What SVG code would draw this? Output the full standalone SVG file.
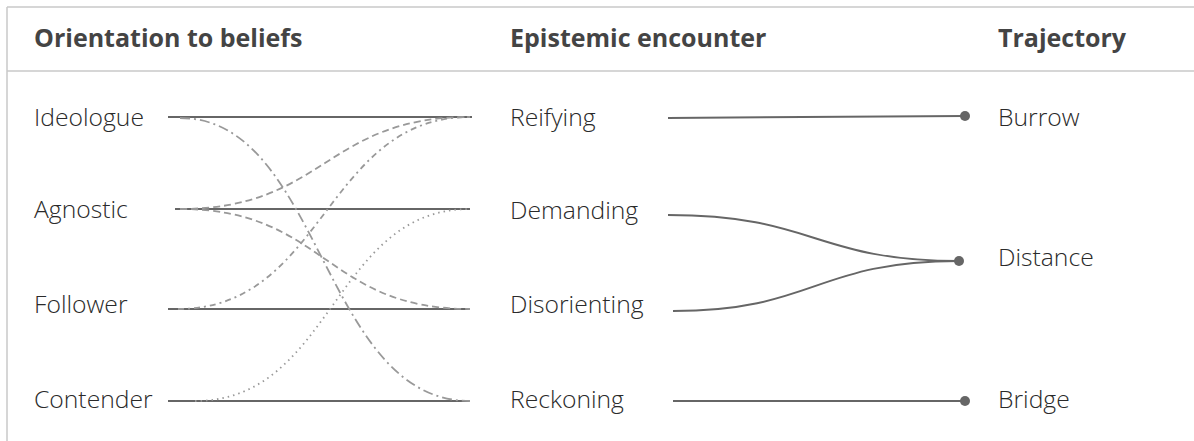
<svg xmlns="http://www.w3.org/2000/svg" width="1194" height="441" viewBox="0 0 1194 441">
  <style>
    .hdr { font-family: "Open Sans", "Liberation Sans", sans-serif; font-weight: 700; font-size: 25px; fill: #444; }
    .lbl { font-family: "Open Sans", "Liberation Sans", sans-serif; font-weight: 300; font-size: 24.7px; fill: #2a2a2a; }
    .frame { stroke: #c8c8c8; stroke-width: 1.5; fill: none; }
    .solid { stroke: #666; stroke-width: 2; fill: none; }
    .dash { stroke: #999; stroke-width: 1.8; fill: none; stroke-dasharray: 7 4; }
    .dashdot { stroke: #999; stroke-width: 1.8; fill: none; stroke-dasharray: 10 4 2 4; }
    .dashdotshort { stroke: #999; stroke-width: 1.8; fill: none; stroke-dasharray: 6 4 2 4; }
    .dot { stroke: #999; stroke-width: 1.8; fill: none; stroke-dasharray: 1.5 4; }
    .end { fill: #666; }
  </style>
  <rect width="1194" height="441" fill="#ffffff"/>
  <g id="frame">
    <line class="frame" x1="7" y1="7" x2="1194" y2="7"/>
    <line class="frame" x1="7" y1="7" x2="7" y2="441"/>
    <line class="frame" x1="7" y1="71" x2="1194" y2="71"/>
  </g>
  <g id="headers">
    <text class="hdr" x="34" y="47">Orientation to beliefs</text>
    <text class="hdr" x="510" y="47">Epistemic encounter</text>
    <text class="hdr" x="998" y="47">Trajectory</text>
  </g>
  <g id="connectors">
    <line class="solid" x1="168" y1="117" x2="472" y2="117"/>
    <line class="solid" x1="175" y1="209" x2="470" y2="209"/>
    <line class="solid" x1="168" y1="309" x2="470" y2="309"/>
    <line class="solid" x1="168" y1="401" x2="470" y2="401"/>
    <path class="dashdot" d="M180,118 C322,118 322,401 470,401"/>
    <path class="dash" d="M180,209 C325,209 325,117 470,117"/>
    <path class="dash" d="M180,209 C325,209 325,309 470,309"/>
    <path class="dashdotshort" d="M178,309 C325,309 325,117 470,117"/>
    <path class="dot" d="M195,401 C333,401 333,209 470,209"/>
    <line class="solid" x1="668" y1="118" x2="965" y2="116"/>
    <path class="solid" d="M668,215 C815,215 815,261 959,261"/>
    <path class="solid" d="M673,311 C815,311 815,261 959,261"/>
    <line class="solid" x1="673" y1="401" x2="965" y2="401"/>
  </g>
  <g id="node-ideologue"><text class="lbl" x="34" y="126">Ideologue</text></g>
  <g id="node-agnostic"><text class="lbl" x="34" y="218">Agnostic</text></g>
  <g id="node-follower"><text class="lbl" x="34" y="313">Follower</text></g>
  <g id="node-contender"><text class="lbl" x="34" y="408">Contender</text></g>
  <g id="node-reifying"><text class="lbl" x="510" y="126">Reifying</text></g>
  <g id="node-demanding"><text class="lbl" x="510" y="219">Demanding</text></g>
  <g id="node-disorienting"><text class="lbl" x="510" y="313">Disorienting</text></g>
  <g id="node-reckoning"><text class="lbl" x="510" y="408">Reckoning</text></g>
  <g id="node-burrow"><circle class="end" cx="965" cy="116" r="5"/><text class="lbl" x="998" y="126">Burrow</text></g>
  <g id="node-distance"><circle class="end" cx="959" cy="261" r="5"/><text class="lbl" x="998" y="266">Distance</text></g>
  <g id="node-bridge"><circle class="end" cx="965" cy="401" r="5"/><text class="lbl" x="998" y="408">Bridge</text></g>
</svg>
